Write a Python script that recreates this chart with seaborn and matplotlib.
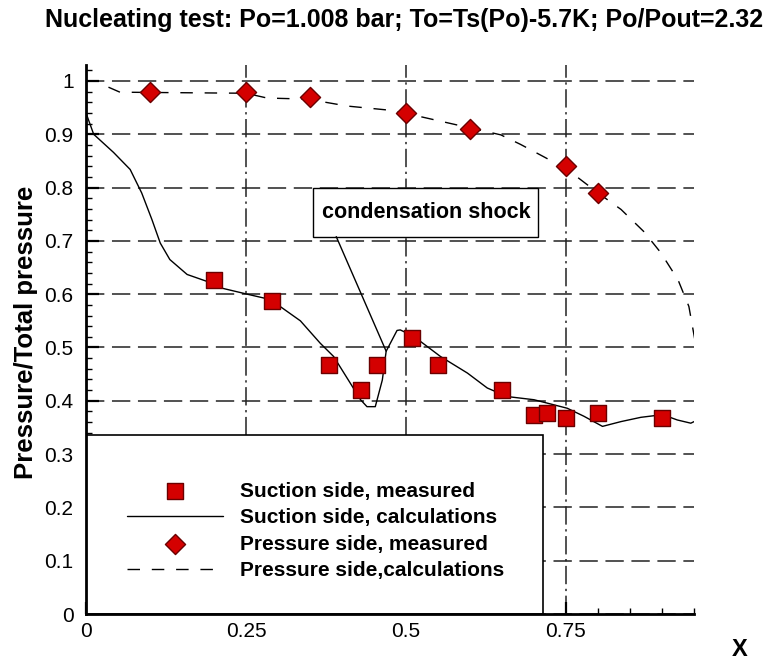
import matplotlib

matplotlib.use("Agg")
import matplotlib.pyplot as plt
import seaborn as sns
from matplotlib.patches import Rectangle
from matplotlib.ticker import FuncFormatter, MultipleLocator

# suction side, measured (squares)
suction_meas_x = [0.20, 0.29, 0.38, 0.43, 0.455, 0.51, 0.55, 0.65, 0.70, 0.72, 0.75, 0.80, 0.90]
suction_meas_y = [0.627, 0.587, 0.468, 0.421, 0.468, 0.518, 0.468, 0.421, 0.374, 0.377, 0.368, 0.377, 0.368]

# suction side, calculations (solid line)
suction_calc_x = [0.0, 0.012, 0.043, 0.069, 0.087, 0.103, 0.116, 0.131, 0.158, 0.189, 0.21, 0.252,
                  0.288, 0.335, 0.366, 0.387, 0.413, 0.429, 0.439, 0.452, 0.463, 0.469, 0.486,
                  0.491, 0.512, 0.554, 0.596, 0.627, 0.658, 0.70, 0.752, 0.778, 0.807, 0.836,
                  0.867, 0.901, 0.924, 0.945, 0.952]
suction_calc_y = [0.94, 0.90, 0.866, 0.834, 0.79, 0.74, 0.696, 0.665, 0.637, 0.624, 0.612, 0.60,
                  0.59, 0.55, 0.508, 0.483, 0.433, 0.402, 0.389, 0.389, 0.439, 0.493, 0.532,
                  0.533, 0.521, 0.483, 0.452, 0.424, 0.408, 0.402, 0.386, 0.371, 0.352, 0.361,
                  0.369, 0.374, 0.364, 0.358, 0.362]

# pressure side, measured (diamonds)
pressure_meas_x = [0.10, 0.25, 0.35, 0.50, 0.60, 0.75, 0.80]
pressure_meas_y = [0.98, 0.98, 0.97, 0.94, 0.91, 0.84, 0.79]

# pressure side, calculations (dashed line)
pressure_calc_x = [0.0, 0.02, 0.032, 0.053, 0.15, 0.25, 0.283, 0.346, 0.408, 0.476, 0.523, 0.60,
                   0.648, 0.679, 0.715, 0.752, 0.80, 0.836, 0.872, 0.898, 0.925, 0.942, 0.952]
pressure_calc_y = [1.0, 1.0, 0.99, 0.979, 0.978, 0.977, 0.968, 0.966, 0.953, 0.945, 0.933, 0.912,
                   0.899, 0.881, 0.858, 0.834, 0.79, 0.759, 0.717, 0.678, 0.627, 0.577, 0.51]

labels = [
    "Suction side, measured",
    "Suction side, calculations",
    "Pressure side, measured",
    "Pressure side,calculations",
]
title = "Nucleating test: Po=1.008 bar; To=Ts(Po)-5.7K; Po/Pout=2.32"

sns.set_style("white")
plt.rcParams["font.family"] = ["Liberation Sans", "DejaVu Sans"]
plt.rcParams["text.color"] = "black"
plt.rcParams["axes.labelcolor"] = "black"

fig = plt.figure(figsize=(7.77, 6.63), dpi=100)
ax = fig.add_axes([86 / 777, 1 - 614 / 663, 608 / 777, 549 / 663])

red = "#d40000"
edge = "#6a0000"

sns.lineplot(x=suction_calc_x, y=suction_calc_y, ax=ax, color="black", lw=1.0,
             sort=False, label=labels[1], zorder=2)
sns.lineplot(x=pressure_calc_x, y=pressure_calc_y, ax=ax, color="black", lw=1.0,
             sort=False, linestyle=(0, (9, 8.5)), label=labels[3], zorder=2)
sns.scatterplot(x=suction_meas_x, y=suction_meas_y, ax=ax, marker="s", s=125,
                color=red, edgecolor=edge, linewidth=1.0, label=labels[0], zorder=4)
sns.scatterplot(x=pressure_meas_x, y=pressure_meas_y, ax=ax, marker="D", s=105,
                color=red, edgecolor=edge, linewidth=1.0, label=labels[2], zorder=4)

ax.set_xlim(0, 0.95)
ax.set_ylim(0, 1.03)

ax.xaxis.set_major_locator(MultipleLocator(0.25))
ax.xaxis.set_minor_locator(MultipleLocator(0.05))
ax.yaxis.set_major_locator(MultipleLocator(0.1))
ax.yaxis.set_minor_locator(MultipleLocator(0.02))
fmt = FuncFormatter(lambda v, _: f"{v:g}")
ax.xaxis.set_major_formatter(fmt)
ax.yaxis.set_major_formatter(fmt)

ax.tick_params(which="major", direction="in", length=9, width=1.6, labelsize=15,
               color="black", labelcolor="black")
ax.tick_params(which="minor", direction="in", length=4, width=1.0, color="black")
ax.tick_params(axis="y", which="major", pad=9)
ax.tick_params(axis="x", which="major", pad=6)
ax.tick_params(left=True, bottom=True, which="both")

for side in ["top", "right"]:
    ax.spines[side].set_visible(False)
for side in ["left", "bottom"]:
    ax.spines[side].set_linewidth(2.0)
    ax.spines[side].set_color("black")

ax.set_axisbelow(True)
ax.yaxis.grid(True, which="major", color="#222222", lw=1.1, linestyle=(0, (12, 5)))
ax.xaxis.grid(True, which="major", color="#222222", lw=1.1, linestyle=(0, (12, 3, 1.5, 3)))

ax.set_xlabel("")
ax.set_ylabel("")

# legend box sitting on the origin
ax.add_patch(Rectangle((0, 0), 0.752, 0.326, transform=ax.transAxes, facecolor="white",
                       edgecolor="black", lw=1.2, zorder=1.5))
handles, hlabels = ax.get_legend_handles_labels()
order = [hlabels.index(lab) for lab in labels]
ax.legend([handles[i] for i in order], labels, loc="center",
          bbox_to_anchor=(0.378, 0.151), frameon=False,
          prop={"weight": "bold", "size": 15}, handlelength=4.6, handletextpad=0.8,
          labelspacing=0.36, scatterpoints=1).set_zorder(5)

# condensation shock callout
ax.add_patch(Rectangle((0.355, 0.708), 0.352, 0.092, facecolor="white", edgecolor="black",
                       lw=1.0, zorder=3))
ax.text(0.531, 0.754, "condensation shock", ha="center", va="center", fontsize=15.5,
        fontweight="bold", zorder=3.5)
ax.annotate("", xy=(0.469, 0.493), xytext=(0.391, 0.708),
            arrowprops=dict(arrowstyle="-", color="black", lw=1.0, shrinkA=0, shrinkB=0),
            zorder=3)

fig.text(404 / 777, 1 - 20 / 663, title, ha="center", va="center", fontsize=18,
         fontweight="bold")
fig.text(26 / 777, 1 - 332 / 663, "Pressure/Total pressure", rotation=90, ha="center",
         va="center", fontsize=18.5, fontweight="bold")
fig.text(740 / 777, 1 - 650 / 663, "X", ha="center", va="center", fontsize=17,
         fontweight="bold")

fig.savefig("out.png", dpi=100)
